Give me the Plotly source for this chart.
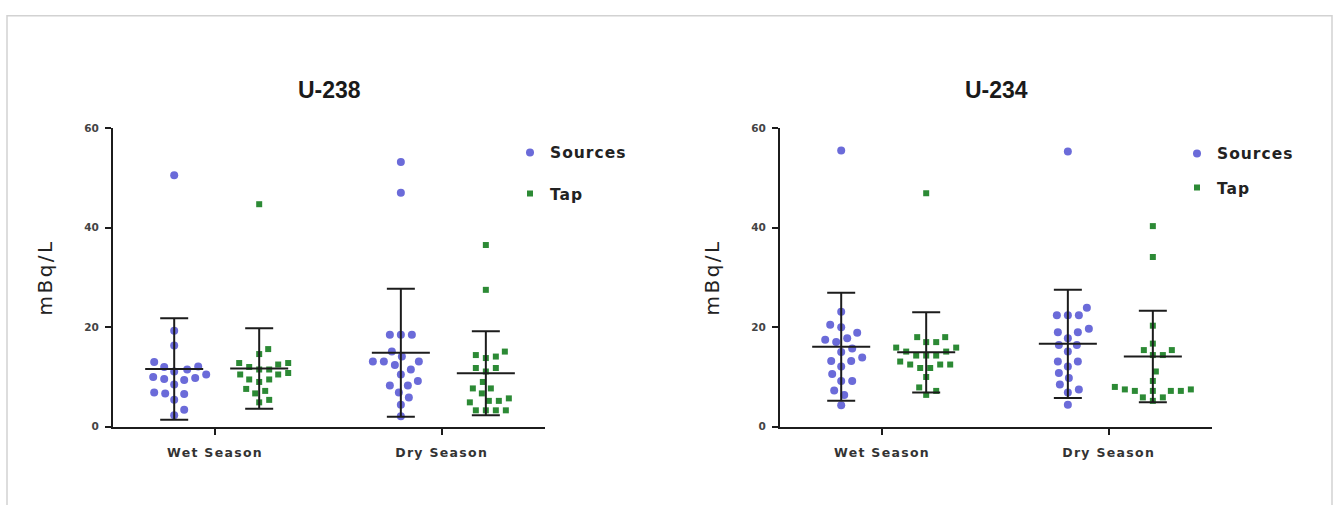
import plotly.graph_objects as go

W, H = 1336, 505

# ---------------- data ----------------
categories = ["Wet Season", "Dry Season"]
series_names = ["Sources", "Tap"]
panel_titles = ["U-238", "U-234"]
y_ticks = [0, 20, 40, 60]
y_label = "mBq/L"

u238_wet_sources = [50.5, 19.3, 16.3, 13.0, 12.1, 12.0, 11.5, 11.1, 10.5, 10.0,
                    9.8, 9.6, 9.4, 8.5, 6.9, 6.7, 6.6, 5.4, 3.4, 2.3]
u238_wet_tap = [44.7, 15.6, 14.6, 12.8, 12.8, 12.5, 12.0, 11.5, 11.5, 10.8,
                10.5, 10.5, 9.5, 9.5, 9.0, 7.6, 7.2, 6.7, 5.4, 4.9]
u238_dry_sources = [53.2, 47.0, 18.5, 18.5, 18.5, 15.1, 14.1, 13.1, 13.1, 13.1,
                    12.4, 11.5, 10.5, 9.2, 8.3, 8.3, 6.9, 5.9, 4.4, 2.1]
u238_dry_tap = [36.5, 27.5, 15.1, 14.4, 14.1, 13.8, 11.8, 11.8, 11.1, 9.0,
                7.7, 7.7, 6.7, 5.7, 5.2, 5.2, 4.9, 3.3, 3.3, 3.3, 3.3]

u234_wet_sources = [55.5, 23.1, 20.5, 20.0, 18.9, 17.8, 17.5, 17.0, 15.7, 15.0,
                    13.9, 13.2, 13.2, 12.1, 10.6, 9.2, 9.2, 7.3, 6.4, 4.3]
u234_wet_tap = [46.9, 18.0, 18.0, 17.0, 17.0, 15.9, 15.9, 15.1, 15.1, 14.3, 14.3,
                14.3, 13.1, 12.5, 12.5, 12.5, 11.8, 11.8, 10.0, 7.9, 7.2, 6.4]
u234_dry_sources = [55.3, 23.9, 22.4, 22.4, 22.4, 19.7, 19.0, 19.0, 17.8, 16.4,
                    16.4, 15.1, 13.1, 13.1, 12.1, 10.8, 9.8, 8.5, 7.5, 6.9, 4.4]
u234_dry_tap = [40.3, 34.1, 20.3, 16.7, 15.4, 15.4, 14.4, 14.4, 11.1, 9.2,
                8.0, 7.5, 7.5, 7.2, 7.2, 7.2, 7.2, 5.9, 5.9, 5.2]

# mean and SD bars as drawn in the reference: [Wet, Dry]
u238_mean_sources = [11.6, 14.85]
u238_sd_sources = [10.2, 12.85]
u238_mean_tap = [11.7, 10.75]
u238_sd_tap = [8.1, 8.45]
u234_mean_sources = [16.05, 16.65]
u234_sd_sources = [10.85, 10.85]
u234_mean_tap = [14.95, 14.1]
u234_sd_tap = [8.05, 9.2]

# ---------------- layout helpers ----------------
def fx(p):
    return p / W

def fy(p):
    return 1 - p / H

def spaced(text, px):
    return f'<span style="letter-spacing:{px}px">{text}</span>'

X_RANGE = [0.55, 2.456]
AX_LEFT = [113, 780]
AX_RIGHT = [545, 1212]
Y_TOP, Y_BOT = 125, 431
X_PX_PER_UNIT = (AX_RIGHT[0] - AX_LEFT[0]) / (X_RANGE[1] - X_RANGE[0])
Y_PX_PER_UNIT = (Y_BOT - Y_TOP) / 60.0

OFFSET = {"Sources": -0.18, "Tap": 0.195}
COLORS = {"Sources": "#6b6bd9", "Tap": "#2c8a35"}
SYMBOL = {"Sources": "circle", "Tap": "square"}
MSIZE = {"Sources": 8, "Tap": 6}
SPACING = {"Sources": 11.0, "Tap": 10.0}
INK = "#1c1c1c"


def swarm(values, d):
    """Deterministic beeswarm: horizontal offsets (in x units) avoiding overlap."""
    order = sorted(range(len(values)), key=lambda i: values[i])
    placed = []
    offs = [0.0] * len(values)
    for i in order:
        yp = values[i] * Y_PX_PER_UNIT
        step = 0
        while True:
            for cand in ([0.0] if step == 0 else [step, -step]):
                ok = all((cand - px) ** 2 + (yp - py) ** 2 >= d * d for px, py in placed)
                if ok:
                    placed.append((cand, yp))
                    offs[i] = cand / X_PX_PER_UNIT
                    break
            else:
                step += 1
                continue
            break
    return offs


panels = [
    {"points": {"Sources": [u238_wet_sources, u238_dry_sources],
                "Tap": [u238_wet_tap, u238_dry_tap]},
     "mean": {"Sources": u238_mean_sources, "Tap": u238_mean_tap},
     "sd": {"Sources": u238_sd_sources, "Tap": u238_sd_tap}},
    {"points": {"Sources": [u234_wet_sources, u234_dry_sources],
                "Tap": [u234_wet_tap, u234_dry_tap]},
     "mean": {"Sources": u234_mean_sources, "Tap": u234_mean_tap},
     "sd": {"Sources": u234_sd_sources, "Tap": u234_sd_tap}},
]

fig = go.Figure()

for p, panel in enumerate(panels):
    xa = "x" if p == 0 else "x2"
    ya = "y" if p == 0 else "y2"
    leg = "legend" if p == 0 else "legend2"
    for name in series_names:
        xs, ys = [], []
        for c, vals in enumerate(panel["points"][name]):
            offs = swarm(vals, SPACING[name])
            xs += [c + 1 + OFFSET[name] + o for o in offs]
            ys += list(vals)
        fig.add_trace(go.Scatter(
            x=xs, y=ys, mode="markers", name=spaced(name, 1), xaxis=xa, yaxis=ya,
            legend=leg, legendgroup=f"{p}{name}",
            marker=dict(symbol=SYMBOL[name], size=MSIZE[name], color=COLORS[name],
                        line=dict(width=0)),
            cliponaxis=False, hoverinfo="x+y"))
    for name in series_names:
        fig.add_trace(go.Scatter(
            x=[c + 1 + OFFSET[name] for c in range(len(categories))],
            y=panel["mean"][name], mode="markers", xaxis=xa, yaxis=ya,
            showlegend=False, marker=dict(size=1, opacity=0),
            error_y=dict(type="data", array=panel["sd"][name], symmetric=True,
                         width=14, thickness=2, color=INK),
            error_x=dict(type="data", array=[0.128, 0.128], symmetric=True,
                         width=0, thickness=2, color=INK),
            cliponaxis=False, hoverinfo="skip"))

axis_common = dict(showgrid=False, zeroline=False, showline=True, linewidth=2,
                   linecolor=INK, ticks="outside", ticklen=6, tickwidth=2,
                   tickcolor=INK, fixedrange=True)

for p in range(2):
    sx = "" if p == 0 else "2"
    fig.layout[f"xaxis{sx}"] = dict(
        axis_common, domain=[fx(AX_LEFT[p]), fx(AX_RIGHT[p])], range=X_RANGE,
        tickvals=[1, 2], ticktext=[spaced(c, 1.3) for c in categories], anchor=f"y{sx}",
        ticklabelstandoff=7,
        tickfont=dict(family="DejaVu Sans", size=12.5, color="#333", weight="bold"))
    fig.layout[f"yaxis{sx}"] = dict(
        axis_common, domain=[fy(Y_BOT), fy(Y_TOP)], range=[0, 60],
        tickvals=y_ticks, anchor=f"x{sx}", ticklabelstandoff=4,
        tickfont=dict(family="DejaVu Sans", size=10.5, color="#444", weight="bold"),
        title=dict(text=spaced(y_label, 2.5), standoff=26,
                   font=dict(family="DejaVu Sans", size=20, color="#222")))
    fig.add_annotation(
        text=panel_titles[p], xref="paper", yref="paper",
        x=fx((AX_LEFT[p] + AX_RIGHT[p]) / 2), y=fy(86), xanchor="center", yanchor="middle",
        showarrow=False, font=dict(family="Liberation Sans", size=23, color="#1a1a1a",
                                   weight="bold"))

legend_common = dict(bgcolor="rgba(0,0,0,0)", borderwidth=0, xanchor="left", yanchor="top",
                     font=dict(family="DejaVu Sans", size=15.5, color="#222", weight="bold"),
                     itemclick=False, itemdoubleclick=False)

fig.update_layout(
    width=W, height=H, autosize=False,
    margin=dict(l=0, r=0, t=0, b=0),
    paper_bgcolor="white", plot_bgcolor="white",
    legend=dict(legend_common, x=fx(510), y=fy(133), tracegroupgap=18),
    legend2=dict(legend_common, x=fx(1177), y=fy(134), tracegroupgap=11),
    shapes=[dict(type="rect", xref="paper", yref="paper",
                 x0=fx(7), x1=fx(1332), y0=fy(520), y1=fy(10),
                 line=dict(color="#d2d2d2", width=1.5), fillcolor="rgba(0,0,0,0)",
                 layer="below")],
    showlegend=True,
)

fig.write_html("out.html")
